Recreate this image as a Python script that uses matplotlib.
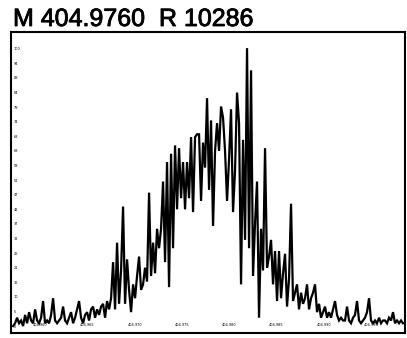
import numpy as np
import matplotlib
matplotlib.use("Agg")
from matplotlib import pyplot as plt
from matplotlib import patheffects as pe

# spectrum around the centre mass (uniform mass grid)
mass_start = 404.95715
mass_stop = 404.99837
intensity = [
    # low left tail
    0, 1, 3, 1, 2, 0, 4, 1, 5, 2, 1, 6, 2, 1, 3, 9, 1, 2, 1, 4,
    10, 2, 1, 2, 3, 7, 2, 1, 3, 5, 1, 3, 6, 9, 3, 1, 4, 5, 2, 6,
    7, 3, 6, 4, 7, 8, 3, 9, 6,
    # rising side
    10, 23, 6, 30, 8, 20, 43, 8, 24, 13, 5, 15, 10, 18, 25, 13, 15, 21, 16, 48,
    18, 30, 19, 35, 28, 35, 52, 23, 59, 14, 62, 28, 65, 42, 64, 46, 59, 42, 59, 46,
    68,
    # top
    41, 68, 69, 69, 45, 66, 57, 82, 49, 74, 36, 63, 73, 63, 79, 75, 63, 45, 60, 78,
    41, 56, 84, 73, 15, 67, 31, 100, 28, 92, 18, 37, 52, 3, 35, 20, 64, 21, 25,
    # falling side
    31, 15, 27, 9, 27, 10, 19, 26, 7, 17, 44, 9, 12, 15, 6, 12, 8, 10, 15, 6,
    10, 12, 15, 5, 8, 3, 5, 7, 3, 5, 3, 6, 9, 4, 2, 3, 2,
    # right tail
    2, 7, 2, 1, 3, 4, 9, 2, 1, 2, 3, 5, 10, 2, 1, 2, 1, 3, 1, 2,
    2, 1, 3, 2, 5, 1, 2, 1, 2, 1,
]
mass = np.linspace(mass_start, mass_stop, len(intensity))

x_ticks = [404.960, 404.965, 404.970, 404.975, 404.980, 404.985, 404.990, 404.995]
y_ticks = np.arange(0, 100, 5.25)

title = "M 404.9760  R 10286"

fig = plt.figure(figsize=(4.07, 3.38), dpi=100)
ax = fig.add_axes([11 / 407, 5 / 338, 394 / 407, 301 / 338])

ax.plot(mass, intensity, color="black", lw=1.6, solid_joinstyle="miter")

ax.set_xlim(404.95693, 404.99858)
ax.set_ylim(-2.5, 105.8)

ax.set_xticks(x_ticks)
ax.set_xticklabels([f"{t:.3f}" for t in x_ticks])
ax.set_yticks(y_ticks)
ax.set_yticklabels([f"{t:.0f}" for t in y_ticks])
ax.tick_params(axis="both", direction="in", length=0, labelsize=2.5)
ax.tick_params(axis="y", pad=-2)
ax.tick_params(axis="x", pad=-4)
for lab in ax.get_yticklabels():
    lab.set_horizontalalignment("left")
for lab in ax.get_xticklabels():
    lab.set_verticalalignment("bottom")

for sp in ax.spines.values():
    sp.set_linewidth(1.5)

fig.text(13 / 407, 1 - 26 / 338, title, fontsize=18, family="Liberation Sans",
         ha="left", va="baseline",
         path_effects=[pe.withStroke(linewidth=0.6, foreground="black")])

plt.savefig("out.png", dpi=100)
